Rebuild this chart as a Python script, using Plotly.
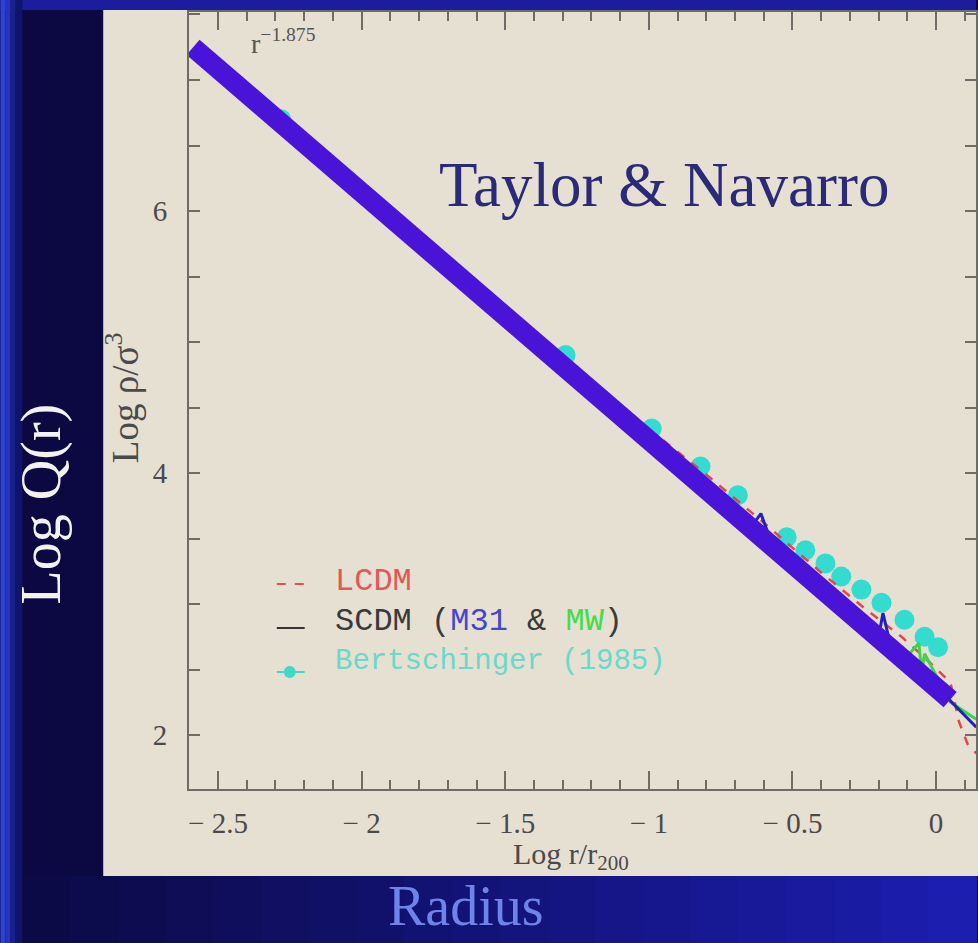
import plotly.graph_objects as go

# ---------------- data ----------------
fit_x = [-2.587, 0.049]            # r^-1.875 power-law fit (thick band)
fit_y = [7.25, 2.27]

bert_x = [-2.28, -1.29, -0.99, -0.82, -0.69, -0.52, -0.455, -0.385, -0.33, -0.26, -0.19, -0.11, -0.04, 0.007]
bert_y = [6.70, 4.90, 4.34, 4.05, 3.83, 3.51, 3.41, 3.31, 3.21, 3.11, 3.01, 2.88, 2.75, 2.67]

lcdm_x = [-0.95, -0.79, -0.6, -0.4, -0.25, -0.12, -0.02, 0.05, 0.08, 0.11, 0.14]
lcdm_y = [4.25, 3.97, 3.62, 3.24, 2.97, 2.75, 2.55, 2.40, 2.10, 1.93, 1.86]

m31_x = [-1.0, -0.81, -0.64, -0.61, -0.57, -0.4, -0.2, -0.185, -0.16, -0.05, 0.05, 0.14]
m31_y = [4.25, 3.92, 3.60, 3.69, 3.45, 3.12, 2.75, 2.93, 2.70, 2.45, 2.26, 2.06]

mw_x = [-0.6, -0.3, -0.13, -0.06, -0.05, -0.04, 0.05, 0.14]
mw_y = [3.50, 2.95, 2.53, 2.70, 2.48, 2.62, 2.25, 2.12]

x_tickvals = [-2.5, -2, -1.5, -1, -0.5, 0]
x_ticktext = ["− 2.5", "− 2", "− 1.5", "− 1", "− 0.5", "0"]
y_tickvals = [2, 4, 6]
y_ticktext = ["2", "4", "6"]

x_range = [-2.601, 0.139]
y_range = [1.588, 7.519]

# ---------------- geometry helpers (pixel -> paper) ----------------
W, H = 978, 943
L, R, T, B = 189, 978, 12, 789


def px(x):
    return (x - L) / (R - L)


def py(y):
    return (B - y) / (B - T)


BEIGE = "#e6e0d3"
AXC = "#6f6b66"
SERIF = "Liberation Serif"
TICKFONT = dict(family=SERIF, size=29, color="#4a4a4a")

fig = go.Figure()

fig.add_trace(go.Scatter(x=bert_x, y=bert_y, mode="markers",
                         marker=dict(size=20, color="#33dccf"), hoverinfo="skip"))
fig.add_trace(go.Scatter(x=lcdm_x, y=lcdm_y, mode="lines",
                         line=dict(color="#e04848", width=2.5, dash="dash"), hoverinfo="skip"))
fig.add_trace(go.Scatter(x=mw_x, y=mw_y, mode="lines",
                         line=dict(color="#3fd24a", width=3), hoverinfo="skip"))
fig.add_trace(go.Scatter(x=m31_x, y=m31_y, mode="lines",
                         line=dict(color="#2222b8", width=3), hoverinfo="skip"))
fig.add_trace(go.Scatter(x=fit_x, y=fit_y, mode="lines",
                         line=dict(color="#4a14d8", width=20), hoverinfo="skip"))

shapes = []
# slide background pieces
shapes.append(dict(type="rect", xref="paper", yref="paper", x0=px(0), x1=px(W), y0=py(0), y1=py(10),
                   fillcolor="#1b1d9c", line=dict(width=0), layer="below"))
left_cols = [("#3042d6", 0, 5), ("#2434bc", 5, 10), ("#18228e", 10, 15), ("#10146a", 15, 22)]
for c, a, b in left_cols:
    shapes.append(dict(type="rect", xref="paper", yref="paper", x0=px(a), x1=px(b), y0=py(H), y1=py(0),
                       fillcolor=c, line=dict(width=0), layer="below"))
n = 20
for i in range(n):
    t = i / (n - 1)
    r = int(12 + t * (28 - 12))
    g = int(10 + t * (30 - 10))
    bb = int(70 + t * (175 - 70))
    shapes.append(dict(type="rect", xref="paper", yref="paper",
                       x0=px(22 + i * (W - 22) / n), x1=px(22 + (i + 1) * (W - 22) / n + 1),
                       y0=py(H), y1=py(876),
                       fillcolor=f"rgb({r},{g},{bb})", line=dict(width=0), layer="below"))
# beige panel
shapes.append(dict(type="rect", xref="paper", yref="paper", x0=px(103), x1=px(W + 5), y0=py(876), y1=py(10),
                   fillcolor=BEIGE, line=dict(width=0), layer="below"))
# legend symbols
shapes.append(dict(type="line", xref="paper", yref="paper", x0=px(277), x1=px(307), y0=py(584), y1=py(584),
                   line=dict(color="#e05050", width=2, dash="dash")))
shapes.append(dict(type="line", xref="paper", yref="paper", x0=px(277), x1=px(305), y0=py(628), y1=py(628),
                   line=dict(color="#333333", width=2)))
shapes.append(dict(type="line", xref="paper", yref="paper", x0=px(277), x1=px(305), y0=py(672), y1=py(672),
                   line=dict(color="#40d8c8", width=2)))
shapes.append(dict(type="circle", xref="paper", yref="paper", x0=px(284), x1=px(296), y0=py(678), y1=py(666),
                   fillcolor="#40d8c8", line=dict(width=0)))

ann = []
ann.append(dict(text="Log Q(r)", x=px(41), y=py(504), xref="paper", yref="paper", textangle=-90,
                showarrow=False, xanchor="center", yanchor="middle",
                font=dict(family=SERIF, size=56, color="#f2f2f2")))
ann.append(dict(text="Radius", x=px(467), y=py(906), xref="paper", yref="paper",
                showarrow=False, xanchor="center", yanchor="middle",
                font=dict(family=SERIF, size=56, color="#6e84ea")))
ann.append(dict(text="Taylor & Navarro", x=px(665), y=py(185), xref="paper", yref="paper",
                showarrow=False, xanchor="center", yanchor="middle",
                font=dict(family=SERIF, size=63, color="#2b2a78")))
ann.append(dict(text="r<sup>−1.875</sup>", x=px(249), y=py(41), xref="paper", yref="paper",
                showarrow=False, xanchor="left", yanchor="middle",
                font=dict(family=SERIF, size=28, color="#555555")))
ann.append(dict(text="Log ρ/σ<sup>3</sup>", x=px(122), y=py(398), xref="paper", yref="paper", textangle=-90,
                showarrow=False, xanchor="center", yanchor="middle",
                font=dict(family=SERIF, size=37, color="#4a4a4a")))
ann.append(dict(text="Log r/r<sub>200</sub>", x=px(572), y=py(856), xref="paper", yref="paper",
                showarrow=False, xanchor="center", yanchor="middle",
                font=dict(family=SERIF, size=30, color="#4a4a4a")))
mono = "Liberation Mono"
ann.append(dict(text="LCDM", x=px(333), y=py(581), xref="paper",
                yref="paper", showarrow=False, xanchor="left", yanchor="middle",
                font=dict(family=mono, size=32, color="#e05858")))
ann.append(dict(text="SCDM (<span style='color:#4444cc'>M31</span> & <span style='color:#44dd44'>MW</span>)",
                x=px(333), y=py(621), xref="paper", yref="paper", showarrow=False, xanchor="left",
                yanchor="middle", font=dict(family=mono, size=32, color="#3a3a3a")))
ann.append(dict(text="Bertschinger (1985)", x=px(333), y=py(661), xref="paper", yref="paper",
                showarrow=False, xanchor="left", yanchor="middle",
                font=dict(family=mono, size=29, color="#6cd8c8")))

fig.update_layout(
    width=W, height=H,
    margin=dict(l=L, r=W - R, t=T, b=H - B, pad=0),
    paper_bgcolor="#0b0842",
    plot_bgcolor=BEIGE,
    showlegend=False,
    shapes=shapes,
    annotations=ann,
)
fig.update_xaxes(range=x_range, tickmode="array", tickvals=x_tickvals, ticktext=x_ticktext,
                 ticks="inside", ticklen=18, tickwidth=2, tickcolor=AXC,
                 minor=dict(tickmode="linear", tick0=0, dtick=0.1, ticks="inside", ticklen=9,
                            tickwidth=2, tickcolor=AXC, showgrid=False),
                 showline=True, linecolor=AXC, linewidth=2, mirror="allticks",
                 showgrid=False, zeroline=False, tickfont=TICKFONT, ticklabelstandoff=7)
fig.update_yaxes(range=y_range, tickmode="array", tickvals=y_tickvals, ticktext=y_ticktext,
                 ticks="inside", ticklen=11, tickwidth=2, tickcolor=AXC,
                 minor=dict(tickmode="linear", tick0=0, dtick=0.5, ticks="inside", ticklen=11,
                            tickwidth=2, tickcolor=AXC, showgrid=False),
                 showline=True, linecolor=AXC, linewidth=2, mirror="allticks",
                 showgrid=False, zeroline=False, tickfont=TICKFONT, ticklabelstandoff=14)

fig.write_html("out.html", config={"displayModeBar": False},
               post_script="document.body.style.margin='0';document.body.style.overflow='hidden';")
